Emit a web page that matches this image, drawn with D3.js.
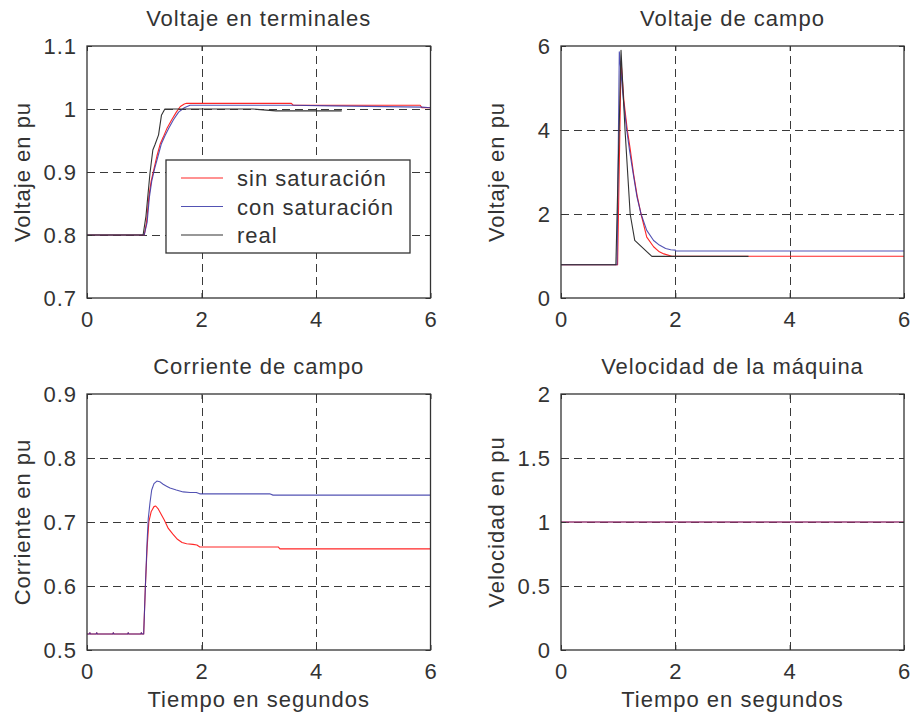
<!DOCTYPE html>
<html>
<head>
<meta charset="utf-8">
<script src="https://cdn.jsdelivr.net/npm/d3@7"></script>
<style>
  html, body { margin: 0; padding: 0; background: #fff; }
  svg { display: block; font-family: "Liberation Sans", Arial, Helvetica, sans-serif; }
</style>
</head>
<body>
<svg id="fig" width="914" height="715"></svg>
<script>
// ---- shared time axis ----
const tiempoTicks = [0, 2, 4, 6];

// ---- Voltaje en terminales ----
const vtTicks = [0.7, 0.8, 0.9, 1, 1.1];
const vtSinSatT = [0, 1.0, 1.04, 1.08, 1.12, 1.17, 1.22, 1.28, 1.33, 1.40, 1.48, 1.56, 1.63, 1.70, 1.74, 3.57, 3.60, 5.82, 5.85, 6];
const vtSinSatV = [0.8, 0.8, 0.82, 0.86, 0.885, 0.905, 0.925, 0.945, 0.955, 0.970, 0.983, 0.995, 1.004, 1.008, 1.009, 1.009, 1.006, 1.006, 1.002, 1.002];
const vtConSatT = [0, 1.0, 1.05, 1.09, 1.13, 1.18, 1.24, 1.30, 1.36, 1.43, 1.51, 1.60, 1.70, 1.80, 3.60, 4.28, 5.85, 6];
const vtConSatV = [0.8, 0.8, 0.82, 0.86, 0.885, 0.905, 0.925, 0.945, 0.957, 0.970, 0.983, 0.995, 1.002, 1.006, 1.006, 1.005, 1.003, 1.002];
const vtRealT = [0, 0.98, 1.03, 1.10, 1.15, 1.19, 1.25, 1.30, 1.36, 2.90, 3.30, 4.45];
const vtRealV = [0.8, 0.8, 0.83, 0.898, 0.935, 0.944, 0.959, 0.990, 1.0, 1.0, 0.997, 0.997];

// ---- Voltaje de campo ----
const vfTicks = [0, 2, 4, 6];
const vfSinSatT = [0, 0.99, 1.05, 1.10, 1.16, 1.21, 1.27, 1.33, 1.40, 1.50, 1.62, 1.72, 1.80, 1.94, 6];
const vfSinSatV = [0.79, 0.79, 5.64, 4.7, 4.0, 3.55, 2.95, 2.45, 2.0, 1.45, 1.22, 1.10, 1.05, 0.995, 0.995];
const vfConSatT = [0, 0.98, 1.02, 1.06, 1.10, 1.15, 1.20, 1.27, 1.33, 1.40, 1.50, 1.62, 1.72, 1.83, 1.92, 2.00, 2.01, 6];
const vfConSatV = [0.79, 0.79, 5.86, 5.2, 4.6, 4.0, 3.5, 2.9, 2.4, 2.0, 1.61, 1.37, 1.26, 1.18, 1.15, 1.14, 1.12, 1.12];
const vfRealT = [0, 0.96, 1.05, 1.12, 1.21, 1.29, 1.59, 3.28];
const vfRealV = [0.79, 0.79, 5.9, 4.0, 2.0, 1.37, 0.99, 0.99];

// ---- Corriente de campo ----
const ifTicks = [0.5, 0.6, 0.7, 0.8, 0.9];
const ifSinSatT = [0, 0.04, 0.05, 0.06, 0.16, 0.17, 0.18, 0.45, 0.46, 0.47, 0.71, 0.72, 0.73, 0.94, 0.95, 0.96, 0.99, 1.02, 1.05, 1.08, 1.12, 1.17, 1.20, 1.24, 1.29, 1.35, 1.42, 1.50, 1.58, 1.66, 1.74, 1.85, 1.92, 1.97, 3.34, 3.37, 6];
const ifSinSatV = [0.525, 0.525, 0.527, 0.525, 0.525, 0.527, 0.525, 0.525, 0.527, 0.525, 0.525, 0.527, 0.525, 0.525, 0.527, 0.525, 0.525, 0.60, 0.66, 0.70, 0.716, 0.724, 0.725, 0.721, 0.713, 0.703, 0.690, 0.681, 0.673, 0.668, 0.666, 0.665, 0.664, 0.661, 0.661, 0.658, 0.658];
const ifConSatT = [0, 0.04, 0.05, 0.06, 0.16, 0.17, 0.18, 0.45, 0.46, 0.47, 0.71, 0.72, 0.73, 0.94, 0.95, 0.96, 0.99, 1.02, 1.05, 1.07, 1.10, 1.13, 1.17, 1.22, 1.27, 1.33, 1.39, 1.45, 1.56, 1.68, 1.80, 1.91, 1.97, 3.19, 3.25, 6];
const ifConSatV = [0.525, 0.525, 0.527, 0.525, 0.525, 0.527, 0.525, 0.525, 0.527, 0.525, 0.525, 0.527, 0.525, 0.525, 0.527, 0.525, 0.525, 0.60, 0.67, 0.705, 0.730, 0.750, 0.760, 0.764, 0.763, 0.759, 0.756, 0.753, 0.750, 0.747, 0.746, 0.746, 0.744, 0.744, 0.742, 0.742];

// ---- Velocidad de la máquina ----
const velTicks = [0, 0.5, 1, 1.5, 2];
const velSinSatT = [0, 6];
const velSinSatV = [1, 1];
const velConSatT = [0, 6];
const velConSatV = [1, 1];

const legendLabels = ["sin saturación", "con saturación", "real"];

// ---- styles ----
const INK = "#333";
const COL_RED = "#ff2626";
const COL_BLUE = "#3434a6";
const COL_BLACK = "#333";
const FONT = 22;
const LS = "1px";

const svg = d3.select("#fig");
svg.append("rect").attr("width", 914).attr("height", 715).attr("fill", "#fff");

const zip = (t, v) => t.map((x, i) => [x, v[i]]);

const panels = [
  { box: [87, 46, 430.5, 298], title: "Voltaje en terminales", ylabel: "Voltaje en pu", xlabel: null,
    yDomain: [0.7, 1.1], yTicks: vtTicks, legend: true,
    series: [
      { data: zip(vtSinSatT, vtSinSatV), color: COL_RED },
      { data: zip(vtConSatT, vtConSatV), color: COL_BLUE, opacity: 0.85 },
      { data: zip(vtRealT, vtRealV), color: COL_BLACK }
    ] },
  { box: [561, 46, 904, 298], title: "Voltaje de campo", ylabel: "Voltaje en pu", xlabel: null,
    yDomain: [0, 6], yTicks: vfTicks,
    series: [
      { data: zip(vfSinSatT, vfSinSatV), color: COL_RED },
      { data: zip(vfConSatT, vfConSatV), color: COL_BLUE, opacity: 0.85 },
      { data: zip(vfRealT, vfRealV), color: COL_BLACK }
    ] },
  { box: [87, 394, 430.5, 650], title: "Corriente de campo", ylabel: "Corriente en pu", xlabel: "Tiempo en segundos",
    yDomain: [0.5, 0.9], yTicks: ifTicks,
    series: [
      { data: zip(ifSinSatT, ifSinSatV), color: COL_RED },
      { data: zip(ifConSatT, ifConSatV), color: COL_BLUE, opacity: 0.85 }
    ] },
  { box: [561, 394, 904, 650], title: "Velocidad de la máquina", ylabel: "Velocidad en pu", xlabel: "Tiempo en segundos",
    yDomain: [0, 2], yTicks: velTicks,
    series: [
      { data: zip(velSinSatT, velSinSatV), color: COL_RED },
      { data: zip(velConSatT, velConSatV), color: COL_BLUE, opacity: 0.75 }
    ] }
];

const fmt = d3.format("~g");

panels.forEach(p => {
  const [x0, y0, x1, y1] = p.box;
  const w = x1 - x0, h = y1 - y0;
  const x = d3.scaleLinear().domain([0, 6]).range([x0, x1]);
  const y = d3.scaleLinear().domain(p.yDomain).range([y1, y0]);
  const g = svg.append("g");

  // dashed grid at interior ticks
  const grid = g.append("g").attr("stroke", "#3a3a3a").attr("stroke-width", 1)
    .attr("stroke-dasharray", "8,5").attr("shape-rendering", "crispEdges");
  tiempoTicks.filter(t => t > 0 && t < 6).forEach(t => {
    grid.append("line").attr("x1", Math.round(x(t)) + 0.5).attr("x2", Math.round(x(t)) + 0.5)
      .attr("y1", y1).attr("y2", y0);
  });
  p.yTicks.filter(v => v > p.yDomain[0] && v < p.yDomain[1]).forEach(v => {
    grid.append("line").attr("y1", Math.round(y(v)) + 0.5).attr("y2", Math.round(y(v)) + 0.5)
      .attr("x1", x0).attr("x2", x1);
  });

  // data lines
  const line = d3.line().x(d => x(d[0])).y(d => y(d[1]));
  p.series.forEach(s => {
    g.append("path").datum(s.data).attr("d", line)
      .attr("fill", "none").attr("stroke", s.color).attr("stroke-width", 1.1)
      .attr("stroke-opacity", s.opacity || 1).attr("stroke-linejoin", "round");
  });

  // axes: inward ticks on all four sides, labels bottom and left
  const axB = d3.axisBottom(x).tickValues(tiempoTicks).tickSizeInner(-5).tickSizeOuter(0).tickPadding(13).tickFormat(fmt);
  const axT = d3.axisTop(x).tickValues(tiempoTicks).tickSizeInner(-5).tickSizeOuter(0).tickFormat("");
  const axL = d3.axisLeft(y).tickValues(p.yTicks).tickSizeInner(-5).tickSizeOuter(0).tickPadding(10).tickFormat(fmt);
  const axR = d3.axisRight(y).tickValues(p.yTicks).tickSizeInner(-5).tickSizeOuter(0).tickFormat("");

  const styleAxis = sel => {
    sel.select(".domain").remove();
    sel.selectAll(".tick line").attr("stroke", INK);
    sel.selectAll(".tick text").attr("fill", INK).attr("font-size", FONT)
      .attr("font-family", "Liberation Sans, Arial, sans-serif").style("letter-spacing", LS);
  };
  g.append("g").attr("transform", `translate(0,${y1})`).call(axB).call(styleAxis);
  g.append("g").attr("transform", `translate(0,${y0})`).call(axT).call(styleAxis);
  g.append("g").attr("transform", `translate(${x0},0)`).call(axL).call(styleAxis);
  g.append("g").attr("transform", `translate(${x1},0)`).call(axR).call(styleAxis);

  // box
  g.append("rect").attr("x", x0).attr("y", y0).attr("width", w).attr("height", h)
    .attr("fill", "none").attr("stroke", INK).attr("stroke-width", 1.3);

  // title
  g.append("text").attr("x", (x0 + x1) / 2).attr("y", y0 - 20).attr("text-anchor", "middle")
    .attr("font-size", FONT).attr("fill", INK).style("letter-spacing", LS).text(p.title);

  // y label
  g.append("text").attr("transform", `translate(${x0 - 57},${(y0 + y1) / 2}) rotate(-90)`)
    .attr("text-anchor", "middle").attr("font-size", FONT).attr("fill", INK)
    .style("letter-spacing", LS).text(p.ylabel);

  // x label
  if (p.xlabel) {
    g.append("text").attr("x", (x0 + x1) / 2).attr("y", y1 + 57).attr("text-anchor", "middle")
      .attr("font-size", FONT).attr("fill", INK).style("letter-spacing", LS).text(p.xlabel);
  }

  // legend
  if (p.legend) {
    const lx = x0 + 79, ly = y0 + 114, lw = 244, lh = 93;
    const lg = g.append("g");
    lg.append("rect").attr("x", lx).attr("y", ly).attr("width", lw).attr("height", lh)
      .attr("fill", "#fff").attr("stroke", INK).attr("stroke-width", 1.3);
    p.series.forEach((s, i) => {
      const ry = ly + 18 + i * 28.5;
      lg.append("line").attr("x1", lx + 15).attr("x2", lx + 57).attr("y1", ry).attr("y2", ry)
        .attr("stroke", s.color).attr("stroke-width", 1.1).attr("stroke-opacity", s.opacity || 1);
      lg.append("text").attr("x", lx + 71).attr("y", ry + 8).attr("font-size", FONT)
        .attr("fill", INK).style("letter-spacing", LS).text(legendLabels[i]);
    });
  }
});
</script>
</body>
</html>
